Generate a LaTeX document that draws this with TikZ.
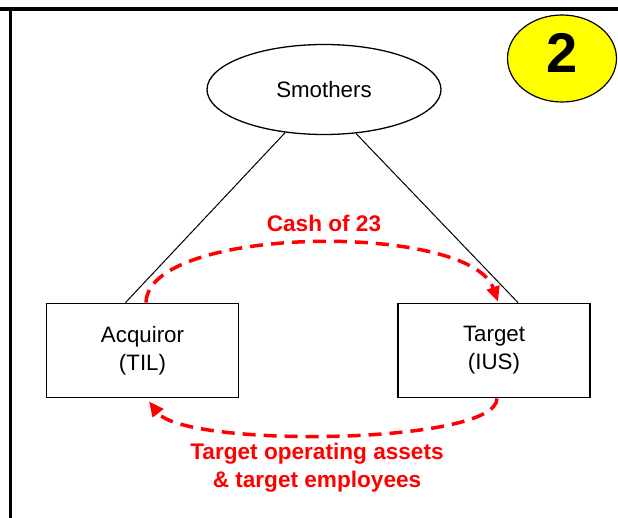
\documentclass[tikz,border=0pt]{standalone}
\usepackage{fontspec}
\setmainfont{Liberation Sans}
\usetikzlibrary{arrows.meta,shapes.geometric,calc}
\definecolor{badgeyellow}{RGB}{255,255,0}
\definecolor{flowred}{RGB}{255,0,0}
\begin{document}
\begin{tikzpicture}[x=1pt,y=-1pt,
  frameline/.style={line width=3.4pt,black},
  party/.style={draw,line width=1.3pt,rectangle,minimum width=192pt,minimum height=94.5pt,inner sep=0pt,align=center,font=\fontsize{22.3}{28}\selectfont},
  owner/.style={draw,line width=1.3pt,ellipse,minimum width=234pt,minimum height=90pt,inner sep=0pt,font=\fontsize{22.3}{28}\selectfont},
  badge/.style={draw,line width=1.2pt,ellipse,fill=badgeyellow,minimum width=109pt,minimum height=87pt,inner sep=0pt,font=\fontsize{56}{60}\selectfont\bfseries,text depth=12pt},
  link/.style={line width=1pt,black},
  flow/.style={flowred,line width=3.5pt,dash pattern=on 13pt off 8pt,-{Triangle[length=15pt,width=13pt]}},
  flowlabel/.style={text=flowred,font=\fontsize{22.6}{28}\selectfont\bfseries,align=center,inner sep=0pt}
]
\useasboundingbox (0,0) rectangle (618,518);
% frame
\draw[frameline] (0,9) -- (618,9);
\draw[frameline] (10.7,9) -- (10.7,518);
% nodes
\node[owner] (sm) at (324,89.5) {Smothers};
\node[badge] (num) at (562,58.5) {2};
\node[party] (acq) at (142.5,350.5) {Acquiror\\(TIL)};
\node[party] (tgt) at (494,350.5) {Target\\(IUS)};
% ownership lines
\draw[link] ([xshift=-17pt]acq.north) -- (sm.228);
\draw[link] ([xshift=24pt]tgt.north) -- (sm.306);
% flows
\draw[flow] ([xshift=3.5pt]acq.north) .. controls (148,225) and (470,222) .. ([xshift=4pt,yshift=1pt]tgt.north);
\draw[flow] ([xshift=3pt]tgt.south) .. controls (497,445) and (185,448) .. ([xshift=6.5pt,yshift=-3pt]acq.south);
% labels
\node[flowlabel] (cash) at (324,223) {Cash of 23};
\node[flowlabel] (assets) at (317,468) {Target operating assets\\\& target employees};
\end{tikzpicture}
\end{document}
